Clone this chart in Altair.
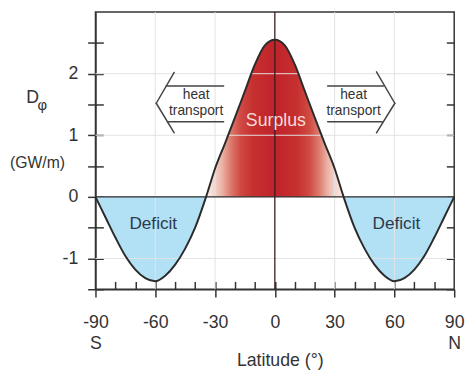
import altair as alt
import pandas as pd

# ---- data ----
lat = [-90, -85, -80, -75, -70, -65, -60, -55, -50, -45, -40, -34.5, -30, -25, -20, -15, -10, -5, 0,
       5, 10, 15, 20, 25, 30, 34.5, 40, 45, 50, 55, 60, 65, 70, 75, 80, 85, 90]
dphi = [0, -0.33, -0.66, -0.96, -1.18, -1.32, -1.37, -1.28, -1.10, -0.84, -0.50, 0, 0.46, 0.87, 1.29, 1.72, 2.15, 2.46, 2.55,
        2.46, 2.15, 1.72, 1.29, 0.87, 0.46, 0, -0.50, -0.84, -1.10, -1.28, -1.37, -1.32, -1.18, -0.96, -0.66, -0.33, 0]

x_major = [-90, -60, -30, 0, 30, 60, 90]
x_inner = [-80, -70, -60, -50, -40, -30, -20, -10, 0, 10, 20, 30, 40, 50, 60, 70, 80]
y_ticks = [-1.5, -1, -0.5, 0, 0.5, 1, 1.5, 2, 2.5]
grid_x = [-60, -30, 30, 60]
grid_y = [-1, 1, 2]

# arrow outlines ("heat transport"), in data coordinates
seg_x1 = [-50.5, -59.5, -54.5, -53.9, 51.0, 60.2, 26.5, 26.5]
seg_y1 = [2.02, 1.52, 1.80, 1.22, 2.03, 1.52, 1.80, 1.22]
seg_x2 = [-59.5, -50.5, -25.7, -25.7, 60.2, 51.0, 54.5, 53.9]
seg_y2 = [1.52, 1.04, 1.80, 1.22, 1.52, 1.04, 1.80, 1.22]

ann_text = ["heat", "transport", "heat", "transport"]
ann_lat = [-39.5, -39.5, 39.5, 39.5]
ann_val = [1.66, 1.39, 1.66, 1.39]

surplus_text = ["Surplus"]
surplus_lat = [0.5]
surplus_val = [1.23]

deficit_text = ["Deficit", "Deficit"]
deficit_lat = [-61, 61]
deficit_val = [-0.44, -0.44]

FONT = "Liberation Sans"
INK = "#333333"

df = pd.DataFrame({"lat": lat, "d": dphi})
df["zero"] = 0.0
pos = df[(df["d"] >= 0) & (df["lat"].abs() <= 34.5)].copy()
neg = df[df["d"] <= 0].copy()
neg["side"] = ["S" if v < 0 else "N" for v in neg["lat"]]

xs = alt.Scale(domain=[-90, 90], nice=False, zero=False)
ys = alt.Scale(domain=[-1.5, 3], nice=False, zero=False)

grad = alt.Gradient(
    gradient="linear",
    stops=[
        alt.GradientStop(offset=0.0, color="#fbeee9"),
        alt.GradientStop(offset=0.06, color="#f5d6cc"),
        alt.GradientStop(offset=0.12, color="#eab0a3"),
        alt.GradientStop(offset=0.18, color="#dc7a6c"),
        alt.GradientStop(offset=0.25, color="#d04a44"),
        alt.GradientStop(offset=0.34, color="#c6302f"),
        alt.GradientStop(offset=0.5, color="#c0232b"),
        alt.GradientStop(offset=0.66, color="#c6302f"),
        alt.GradientStop(offset=0.75, color="#d04a44"),
        alt.GradientStop(offset=0.82, color="#dc7a6c"),
        alt.GradientStop(offset=0.88, color="#eab0a3"),
        alt.GradientStop(offset=0.94, color="#f5d6cc"),
        alt.GradientStop(offset=1.0, color="#fbeee9"),
    ],
    x1=0, x2=1, y1=0, y2=0,
)

# surplus (with right-side inward ticks axis)
pos_area = alt.Chart(pos).mark_area(interpolate="monotone", color=grad).encode(
    x=alt.X("lat:Q", scale=xs, axis=None),
    y=alt.Y("d:Q", scale=ys, axis=alt.Axis(orient="right", offset=-8, tickSize=8, values=y_ticks,
                                            labels=False, domain=False, title=None)),
    y2="zero:Q",
)

# deficit (with inward ticks axes on bottom and left)
neg_area = alt.Chart(neg).mark_area(interpolate="monotone", color="#b2e1f5").encode(
    x=alt.X("lat:Q", scale=xs, axis=alt.Axis(orient="bottom", offset=-8, tickSize=8, values=x_inner,
                                              labels=False, domain=False, title=None)),
    y=alt.Y("d:Q", scale=ys, axis=alt.Axis(orient="left", offset=-8, tickSize=8, values=y_ticks,
                                            labels=False, domain=False, title=None)),
    y2="zero:Q",
    detail="side:N",
)

gx = alt.Chart(pd.DataFrame({"g": grid_x})).mark_rule(color="#e2e2e2", strokeWidth=1).encode(
    x=alt.X("g:Q", scale=xs, axis=None))
gy = alt.Chart(pd.DataFrame({"g": grid_y})).mark_rule(color="#e2e2e2", strokeWidth=1).encode(
    y=alt.Y("g:Q", scale=ys, axis=None))

zero_h = alt.Chart(pd.DataFrame({"g": [0]})).mark_rule(color="#2a2a2a", strokeWidth=1.5).encode(
    y=alt.Y("g:Q", scale=ys, axis=None))
zero_v = alt.Chart(pd.DataFrame({"g": [0]})).mark_rule(color="#3a1c1c", strokeWidth=1.3).encode(
    x=alt.X("g:Q", scale=xs, axis=None))

x_label_expr = ("datum.value == -90 ? ['-90', 'S'] : datum.value == 90 ? ['90', 'N'] : "
                "'' + datum.value")
y_label_expr = "(datum.value % 1 == 0) ? '' + datum.value : ''"

curve = alt.Chart(df).mark_line(interpolate="monotone", color="#2b2b2b", strokeWidth=2).encode(
    x=alt.X("lat:Q", scale=xs, axis=alt.Axis(orient="bottom", values=x_major, tickSize=8,
                                              labelExpr=x_label_expr, labelPadding=17,
                                              labelLineHeight=21, labelFlush=False,
                                              labelOverlap=False, title=None)),
    y=alt.Y("d:Q", scale=ys, axis=alt.Axis(orient="left", values=y_ticks, tickSize=8,
                                            labelExpr=y_label_expr, labelPadding=10,
                                            labelOverlap=False, labelFlush=False, title=None)),
)

segs = alt.Chart(pd.DataFrame({"x1": seg_x1, "y1": seg_y1, "x2": seg_x2, "y2": seg_y2})).mark_rule(
    color="#444444", strokeWidth=1.5, strokeCap="round").encode(
    x=alt.X("x1:Q", scale=xs, axis=None), y=alt.Y("y1:Q", scale=ys, axis=None),
    x2="x2:Q", y2="y2:Q")

ann = alt.Chart(pd.DataFrame({"t": ann_text, "x": ann_lat, "y": ann_val})).mark_text(
    font=FONT, fontSize=14, color=INK).encode(
    x=alt.X("x:Q", scale=xs, axis=None), y=alt.Y("y:Q", scale=ys, axis=None), text="t:N")

sur = alt.Chart(pd.DataFrame({"t": surplus_text, "x": surplus_lat, "y": surplus_val})).mark_text(
    font=FONT, fontSize=18, color="#f8dcd6").encode(
    x=alt.X("x:Q", scale=xs, axis=None), y=alt.Y("y:Q", scale=ys, axis=None), text="t:N")

def_ = alt.Chart(pd.DataFrame({"t": deficit_text, "x": deficit_lat, "y": deficit_val})).mark_text(
    font=FONT, fontSize=17.5, color="#2b3a4a").encode(
    x=alt.X("x:Q", scale=xs, axis=None), y=alt.Y("y:Q", scale=ys, axis=None), text="t:N")

one = pd.DataFrame({"k": [0]})
t_d = alt.Chart(one).mark_text(font=FONT, fontSize=18, color=INK).encode(
    x=alt.value(-64), y=alt.value(87.5), text=alt.value("D"))
t_phi = alt.Chart(one).mark_text(font=FONT, fontSize=15, color=INK).encode(
    x=alt.value(-54), y=alt.value(94.5), text=alt.value("φ"))
t_unit = alt.Chart(one).mark_text(font=FONT, fontSize=16, color=INK).encode(
    x=alt.value(-59), y=alt.value(153.5), text=alt.value("(GW/m)"))
t_x = alt.Chart(one).mark_text(font=FONT, fontSize=18, color=INK).encode(
    x=alt.value(188), y=alt.value(355), text=alt.value("Latitude (°)"))

chart = alt.layer(
    pos_area, neg_area, gx, gy, zero_h, zero_v, curve, segs, ann, sur, def_,
    t_d, t_phi, t_unit, t_x,
).resolve_axis(x="independent", y="independent").properties(
    width=365, height=282,
    autosize=alt.AutoSizeParams(type="none"),
    padding={"left": 89, "top": 1, "right": 12, "bottom": 80},
    background="white",
).configure_view(stroke=INK, strokeWidth=1.5).configure_axis(
    grid=False, labelFont=FONT, labelFontSize=18, labelColor=INK,
    domainColor=INK, domainWidth=1.5, tickColor=INK, tickWidth=1.5,
)

chart.save("out.html", embed_options={"renderer": "svg", "actions": False})
